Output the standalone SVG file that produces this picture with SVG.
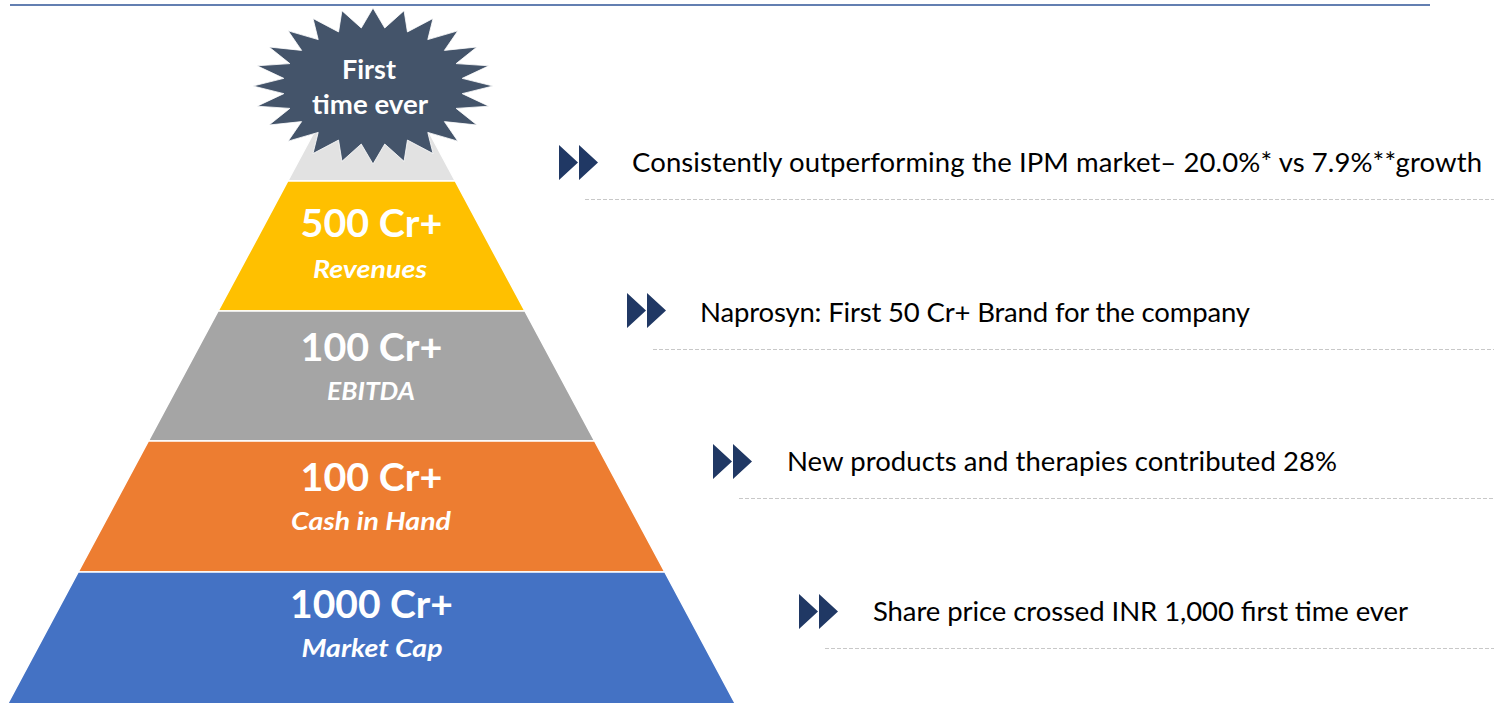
<svg xmlns="http://www.w3.org/2000/svg" width="1494" height="703" viewBox="0 0 1494 703">
  <defs>
    <style>
      .band { stroke: #ffffff; stroke-width: 1.5; }
      .big { font-family: Lato, "Liberation Sans", sans-serif; font-weight: 700; font-size: 39px; fill: #ffffff; text-anchor: middle; }
      .sub { font-family: Lato, "Liberation Sans", sans-serif; font-weight: 700; font-style: italic; font-size: 24px; fill: #ffffff; text-anchor: middle; }
      .star { font-family: Lato, "Liberation Sans", sans-serif; font-weight: 700; font-size: 26px; fill: #ffffff; text-anchor: middle; }
      .body { font-family: Lato, "Liberation Sans", sans-serif; font-size: 27.5px; fill: #000000; }
      .dash { stroke: #C8C8C8; stroke-width: 1; stroke-dasharray: 4 2; fill: none; }
      .bullet { fill: #203864; }
    </style>
    <g id="dbl">
      <path class="bullet" d="M0 0 L19 17.5 L0 35 Z M20 0 L39 17.5 L20 35 Z"/>
    </g>
  </defs>

  <rect width="1494" height="703" fill="#ffffff"/>

  <g id="rules">
    <line x1="10" y1="5" x2="1430" y2="5" stroke="#2F5597" stroke-width="1.6"/>
    <line class="dash" x1="585" y1="199.5" x2="1494" y2="199.5"/>
    <line class="dash" x1="653" y1="349.5" x2="1494" y2="349.5"/>
    <line class="dash" x1="739" y1="498.5" x2="1494" y2="498.5"/>
    <line class="dash" x1="825" y1="648.5" x2="1494" y2="648.5"/>
  </g>

  <g id="connectors"></g>

  <g id="tier-top">
    <polygon class="band" fill="#E2E2E2" points="371.5,25 455.2,181 287.8,181"/>
  </g>
  <g id="tier-revenues">
    <polygon class="band" fill="#FFC000" points="287.8,181 455.2,181 524.9,311 218.1,311"/>
    <text class="big" x="371.5" y="237" textLength="142" lengthAdjust="spacingAndGlyphs">500 Cr+</text>
    <text class="sub" x="370" y="278" textLength="114" lengthAdjust="spacingAndGlyphs">Revenues</text>
  </g>
  <g id="tier-ebitda">
    <polygon class="band" fill="#A5A5A5" points="218.1,311 524.9,311 594.6,441 148.4,441"/>
    <text class="big" x="371.5" y="361" textLength="142" lengthAdjust="spacingAndGlyphs">100 Cr+</text>
    <text class="sub" x="371" y="400" textLength="88" lengthAdjust="spacingAndGlyphs">EBITDA</text>
  </g>
  <g id="tier-cash">
    <polygon class="band" fill="#ED7D31" points="148.4,441 594.6,441 664.8,572 78.2,572"/>
    <text class="big" x="371.5" y="491" textLength="142" lengthAdjust="spacingAndGlyphs">100 Cr+</text>
    <text class="sub" x="371" y="530" textLength="160" lengthAdjust="spacingAndGlyphs">Cash in Hand</text>
  </g>
  <g id="tier-mcap">
    <polygon class="band" fill="#4472C4" points="78.2,572 664.8,572 736,705 7,705"/>
    <text class="big" x="371.5" y="618" textLength="163" lengthAdjust="spacingAndGlyphs">1000 Cr+</text>
    <text class="sub" x="372" y="657" textLength="141" lengthAdjust="spacingAndGlyphs">Market Cap</text>
  </g>

  <g id="starburst">
    <path transform="translate(373,86)" fill="#44546A" stroke="#ffffff" stroke-width="0.8" d="M0,-78 L11.75,-58 L31.06,-75.34 L34.44,-54.05 L60,-67.55 L54.79,-46.41 L84.85,-55.15 L71.4,-35.61 L103.92,-39 L83.15,-22.39 L115.91,-20.19 L89.23,-7.64 L120,0 L89.23,7.64 L115.91,20.19 L83.15,22.39 L103.92,39 L71.4,35.61 L84.85,55.15 L54.79,46.41 L60,67.55 L34.44,54.05 L31.06,75.34 L11.75,58 L0,78 L-11.75,58 L-31.06,75.34 L-34.44,54.05 L-60,67.55 L-54.79,46.41 L-84.85,55.15 L-71.4,35.61 L-103.92,39 L-83.15,22.39 L-115.91,20.19 L-89.23,7.64 L-120,0 L-89.23,-7.64 L-115.91,-20.19 L-83.15,-22.39 L-103.92,-39 L-71.4,-35.61 L-84.85,-55.15 L-54.79,-46.41 L-60,-67.55 L-34.44,-54.05 L-31.06,-75.34 L-11.75,-58 Z"/>
    <text class="star" x="369" y="79" textLength="54" lengthAdjust="spacingAndGlyphs">First</text>
    <text class="star" x="370" y="114" textLength="116" lengthAdjust="spacingAndGlyphs">time ever</text>
  </g>

  <g id="item-1">
    <use href="#dbl" x="559" y="145"/>
    <text class="body" x="632" y="172" textLength="850">Consistently outperforming the IPM market– 20.0%* vs 7.9%**growth</text>
  </g>
  <g id="item-2">
    <use href="#dbl" x="627" y="293"/>
    <text class="body" x="700" y="322" textLength="550">Naprosyn: First 50 Cr+ Brand for the company</text>
  </g>
  <g id="item-3">
    <use href="#dbl" x="713" y="444"/>
    <text class="body" x="787" y="471" textLength="550">New products and therapies contributed 28%</text>
  </g>
  <g id="item-4">
    <use href="#dbl" x="799" y="594"/>
    <text class="body" x="873" y="621" textLength="535">Share price crossed INR 1,000 first time ever</text>
  </g>
</svg>
